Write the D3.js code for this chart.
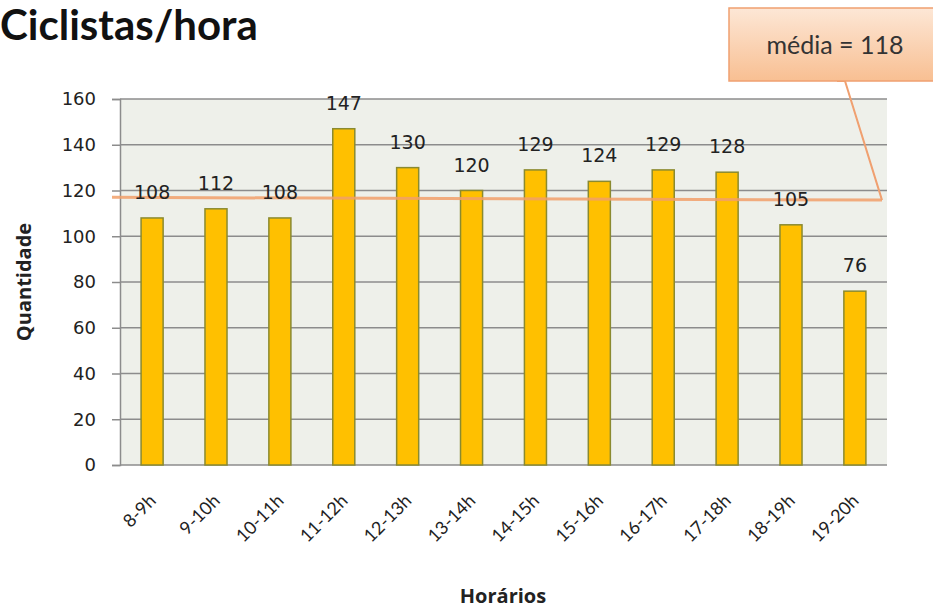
<!DOCTYPE html>
<html>
<head>
<meta charset="utf-8">
<script src="https://cdn.jsdelivr.net/npm/d3@7"></script>
<style>
  body { margin: 0; background: #fff; }
  svg { display: block; }
</style>
</head>
<body>
<div id="chart"></div>
<script>
const horarios = ["8-9h", "9-10h", "10-11h", "11-12h", "12-13h", "13-14h",
                  "14-15h", "15-16h", "16-17h", "17-18h", "18-19h", "19-20h"];
const ciclistas = [108, 112, 108, 147, 130, 120, 129, 124, 129, 128, 105, 76];
const yTicks = [0, 20, 40, 60, 80, 100, 120, 140, 160];
const media = 118;
// the hand-drawn average line sits a little below 118 in the picture
const mediaLineEnds = [117, 115.8];

const width = 933, height = 608;
const margin = { top: 99, right: 46, bottom: 143, left: 120 };

const svg = d3.select("#chart")
    .append("svg")
    .attr("width", width)
    .attr("height", height);

const x = d3.scaleBand()
    .domain(horarios)
    .range([margin.left, width - margin.right])
    .paddingInner(0.655)
    .paddingOuter(0.33);

const y = d3.scaleLinear()
    .domain([0, 160])
    .range([height - margin.bottom, margin.top]);

// plot background
svg.append("rect")
    .attr("x", margin.left)
    .attr("y", margin.top)
    .attr("width", width - margin.right - margin.left)
    .attr("height", y(0) - margin.top)
    .attr("fill", "#eef0ea");

// gridlines + y axis
const yAxis = svg.append("g")
    .attr("transform", `translate(${margin.left},0)`)
    .call(d3.axisLeft(y).tickValues(yTicks).tickSize(8).tickPadding(16));
yAxis.select(".domain").attr("stroke", "#8c8c8c").attr("stroke-width", 1.5);
yAxis.selectAll(".tick line").attr("stroke", "#8c8c8c").attr("stroke-width", 1.5);
yAxis.selectAll(".tick text")
    .attr("font-family", "DejaVu Sans, Verdana, sans-serif")
    .attr("font-size", 18)
    .attr("fill", "#222");

svg.append("g")
    .selectAll("line")
    .data(yTicks)
    .join("line")
    .attr("x1", margin.left)
    .attr("x2", width - margin.right)
    .attr("y1", d => y(d))
    .attr("y2", d => y(d))
    .attr("stroke", "#8c8c8c")
    .attr("stroke-width", 1.5);

// bars
svg.append("g")
    .selectAll("rect")
    .data(ciclistas)
    .join("rect")
    .attr("x", (d, i) => x(horarios[i]))
    .attr("y", d => y(d))
    .attr("width", x.bandwidth())
    .attr("height", d => y(0) - y(d))
    .attr("fill", "#ffc000")
    .attr("stroke", "#8a8a30")
    .attr("stroke-width", 1.5);

// average line
svg.append("line")
    .attr("x1", margin.left - 8)
    .attr("x2", width - 51)
    .attr("y1", y(mediaLineEnds[0]))
    .attr("y2", y(mediaLineEnds[1]))
    .attr("stroke", "#f2a06a")
    .attr("stroke-width", 3)
    .attr("opacity", 0.85);

// value labels
svg.append("g")
    .selectAll("text")
    .data(ciclistas)
    .join("text")
    .attr("x", (d, i) => x(horarios[i]) + x.bandwidth() / 2)
    .attr("y", d => y(d) - 19)
    .attr("text-anchor", "middle")
    .attr("font-family", "DejaVu Sans, Verdana, sans-serif")
    .attr("font-size", 19)
    .attr("fill", "#222")
    .text(d => d);

// x labels
svg.append("g")
    .selectAll("text")
    .data(horarios)
    .join("text")
    .attr("transform", d => `translate(${x(d) + x.bandwidth() / 2 + 5},${y(0) + 37}) rotate(-45)`)
    .attr("text-anchor", "end")
    .attr("font-family", "Lato, Open Sans, sans-serif")
    .attr("font-size", 18)
    .attr("fill", "#222")
    .text(d => d);

// axis titles
svg.append("text")
    .attr("transform", `translate(31,${(y(0) + margin.top) / 2}) rotate(-90)`)
    .attr("text-anchor", "middle")
    .attr("font-family", "Open Sans, sans-serif")
    .attr("font-weight", "bold")
    .attr("font-size", 20)
    .attr("fill", "#222")
    .text("Quantidade");

svg.append("text")
    .attr("x", 503)
    .attr("y", 603)
    .attr("text-anchor", "middle")
    .attr("font-family", "Open Sans, sans-serif")
    .attr("font-weight", "bold")
    .attr("font-size", 20)
    .attr("fill", "#222")
    .text("Horários");

// title
svg.append("text")
    .attr("x", 0)
    .attr("y", 40)
    .attr("font-family", "Lato, sans-serif")
    .attr("font-weight", "bold")
    .attr("font-size", 42)
    .attr("fill", "#111")
    .text("Ciclistas/hora");

// callout
const grad = svg.append("defs").append("linearGradient")
    .attr("id", "callout-grad")
    .attr("x1", 0).attr("y1", 0).attr("x2", 0).attr("y2", 1);
grad.append("stop").attr("offset", "0%").attr("stop-color", "#fde7d6");
grad.append("stop").attr("offset", "100%").attr("stop-color", "#f8bf92");

svg.append("path")
    .attr("d", `M${width - 51},${y(mediaLineEnds[1])} L845,81 L837,81`)
    .attr("fill", "none")
    .attr("stroke", "#f0a070")
    .attr("stroke-width", 2);

svg.append("rect")
    .attr("x", 729)
    .attr("y", 8)
    .attr("width", 220)
    .attr("height", 73)
    .attr("fill", "url(#callout-grad)")
    .attr("stroke", "#f0a070")
    .attr("stroke-width", 1.5);

svg.append("text")
    .attr("x", 835)
    .attr("y", 54)
    .attr("text-anchor", "middle")
    .attr("font-family", "Lato, sans-serif")
    .attr("font-size", 25)
    .attr("fill", "#333")
    .text(`média = ${media}`);
</script>
</body>
</html>
